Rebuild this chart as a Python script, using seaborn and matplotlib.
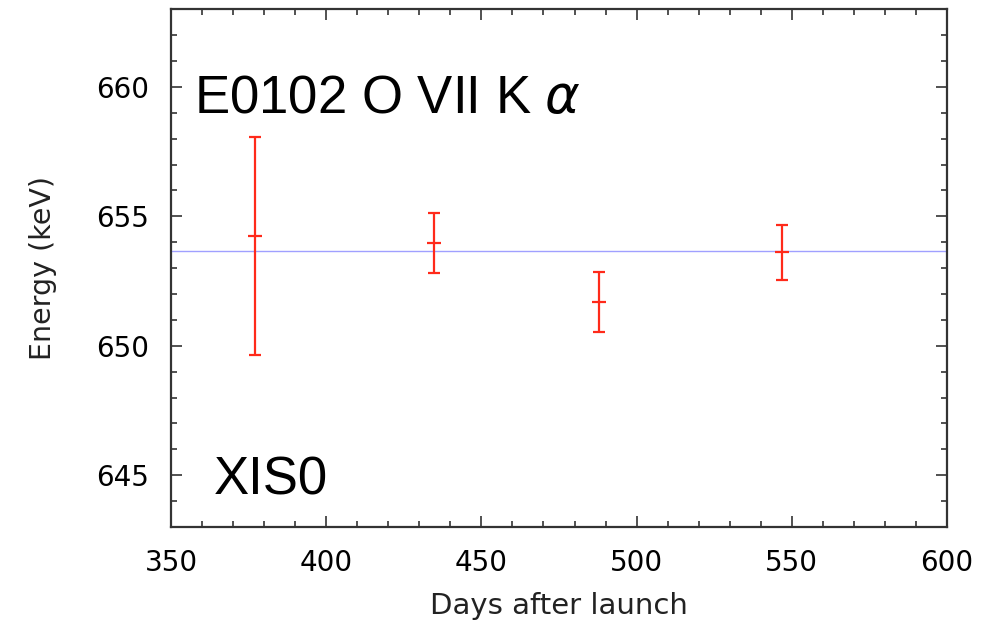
import matplotlib
matplotlib.use("Agg")
import matplotlib.pyplot as plt
import seaborn as sns
import pandas as pd
from matplotlib.ticker import MultipleLocator

days = [377.0, 434.8, 488.0, 547.0]
energy = [654.25, 653.96, 651.71, 653.62]
err_low = [649.65, 652.81, 650.53, 652.56]
err_high = [658.08, 655.12, 652.84, 654.67]
mean_energy = 653.68

sns.set_theme(style="white")
plt.rcParams['font.family'] = ['DejaVu Sans']

df = pd.DataFrame({"day": days, "energy": energy})

fig = plt.figure(figsize=(10.02, 6.21), dpi=100)
ax = fig.add_axes([0.1707, 0.1514, 0.7744, 0.8336])

ax.axhline(mean_energy, color="#a0a0ff", lw=1.0, zorder=1)
yerr = [[e - l for e, l in zip(energy, err_low)], [h - e for e, h in zip(energy, err_high)]]
ax.errorbar(days, energy, yerr=yerr, fmt="none", ecolor="#ff2a1a", elinewidth=1.6,
            capsize=4, capthick=1.6, zorder=2)
sns.scatterplot(data=df, x="day", y="energy", marker="_", s=90, color="#ff2a1a",
                linewidth=1.6, ax=ax, zorder=3, legend=False)

ax.set_xlim(350, 600)
ax.set_ylim(643, 663)
ax.xaxis.set_major_locator(MultipleLocator(50))
ax.xaxis.set_minor_locator(MultipleLocator(10))
ax.yaxis.set_major_locator(MultipleLocator(5))
ax.yaxis.set_minor_locator(MultipleLocator(1))
ax.tick_params(which="both", direction="in", top=True, right=True, left=True, bottom=True,
               colors="#333333", labelcolor="black", labelsize=20, width=1.2)
ax.tick_params(which="major", length=8, pad=16)
ax.tick_params(which="minor", length=4)
for s in ax.spines.values():
    s.set_color("#333333")
    s.set_linewidth(1.6)

ax.set_xlabel("Days after launch", fontsize=21, labelpad=11, color="#222222")
ax.set_ylabel("Energy (keV)", fontsize=20.5, labelpad=28, color="#222222")

title_font = ['Liberation Sans', 'DejaVu Sans']
ax.text(0.03, 0.80, r"E0102 O VII K $\alpha$", transform=ax.transAxes, fontsize=38,
        color="black", va="baseline", ha="left", family=title_font)
ax.text(0.055, 0.062, "XIS0", transform=ax.transAxes, fontsize=38,
        color="black", va="baseline", ha="left", family=title_font)

fig.savefig("out.png", dpi=100)
